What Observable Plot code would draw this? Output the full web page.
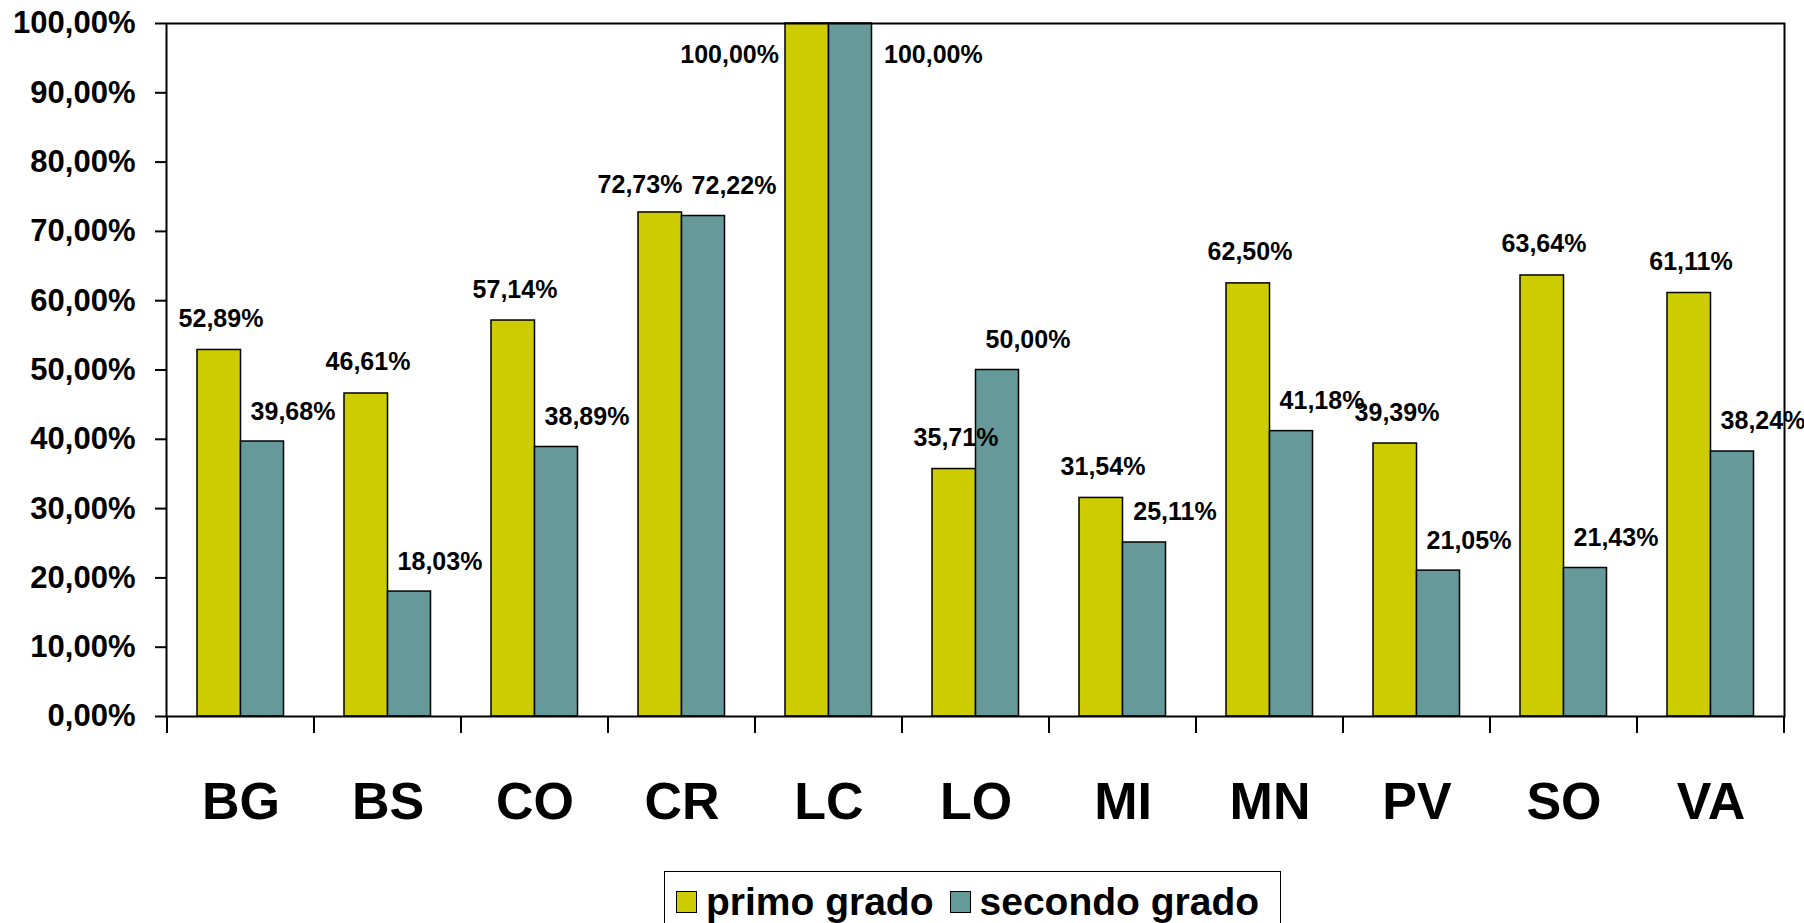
<!DOCTYPE html>
<html>
<head>
<meta charset="utf-8">
<script src="https://cdn.jsdelivr.net/npm/d3@7"></script>
<script src="https://cdn.jsdelivr.net/npm/@observablehq/plot@0.6"></script>
<style>
  html, body { margin: 0; padding: 0; background: #fff; }
  body { font-family: "Liberation Sans", Arial, Helvetica, sans-serif; width: 1804px; height: 923px; overflow: hidden; position: relative; }
  #chart svg { display: block; }
  #legend {
    position: absolute; left: 664px; top: 871px; width: 617px; height: 62px;
    box-sizing: border-box; border: 1.5px solid #000; background: #fff;
    display: flex; align-items: flex-start; padding: 8px 0 0 11px;
    font-weight: bold; font-size: 39px; line-height: 44px; color: #000;
  }
  .item { display: flex; align-items: center; }
  .sw { width: 21px; height: 22px; border: 1.5px solid #000; box-sizing: border-box; margin-right: 9px; }
</style>
</head>
<body>
<div id="chart"></div>
<div id="legend"></div>
<script>
const categories = ["BG", "BS", "CO", "CR", "LC", "LO", "MI", "MN", "PV", "SO", "VA"];
const primoGrado = [52.89, 46.61, 57.14, 72.73, 100.00, 35.71, 31.54, 62.50, 39.39, 63.64, 61.11];
const secondoGrado = [39.68, 18.03, 38.89, 72.22, 100.00, 50.00, 25.11, 41.18, 21.05, 21.43, 38.24];
const seriesNames = ["primo grado", "secondo grado"];
const seriesColors = ["#cccc00", "#669999"];
const yTicks = [0, 10, 20, 30, 40, 50, 60, 70, 80, 90, 100];

const fmt = d => d.toFixed(2).replace(".", ",") + "%";

// pairs whose values are nearly equal get their first label pushed aside so the two don't collide
const isClose = i => Math.abs(primoGrado[i] - secondoGrado[i]) < 5;

const rowsPrimo = categories.map((c, i) => ({cat: c, s: seriesNames[0], v: primoGrado[i], close: isClose(i)}));
const rowsSecondo = categories.map((c, i) => ({cat: c, s: seriesNames[1], v: secondoGrado[i], close: isClose(i)}));

const W = 1804, H = 865;
const ML = 166, MR = 20, MT = 23, MB = 149;

function boundaryTicks(index, scales, values, dimensions) {
  const {width, height, marginLeft, marginRight, marginBottom} = dimensions;
  let xs;
  if (scales && typeof scales.x === "function") {
    xs = categories.map(c => scales.x(c));
  } else {
    const b = d3.scaleBand(categories, [marginLeft, width - marginRight]);
    xs = categories.map(c => b(c));
  }
  xs.push(width - marginRight);
  const y0 = height - marginBottom;
  const g = d3.create("svg:g").attr("stroke", "black").attr("stroke-width", 2);
  g.selectAll("line").data(xs).join("line")
    .attr("x1", d => d).attr("x2", d => d)
    .attr("y1", y0).attr("y2", y0 + 17);
  return g.node();
}

const textCommon = {fontSize: 25, fontWeight: "bold", fill: "black"};

const plot = Plot.plot({
  width: W, height: H,
  marginLeft: ML, marginRight: MR, marginTop: MT, marginBottom: MB,
  style: {fontFamily: '"Liberation Sans", Arial, Helvetica, sans-serif', fontWeight: "bold", background: "white", color: "black", overflow: "visible"},
  x: {domain: categories, paddingInner: 0, paddingOuter: 0, label: null},
  y: {domain: [0, 100], label: null},
  marks: [
    Plot.barY(rowsPrimo, {x: "cat", y: "v", fill: seriesColors[0], stroke: "black", strokeWidth: 1.5, insetLeft: 30, insetRight: 73.5}),
    Plot.barY(rowsSecondo, {x: "cat", y: "v", fill: seriesColors[1], stroke: "black", strokeWidth: 1.5, insetLeft: 73.5, insetRight: 30.5}),
    Plot.frame({stroke: "black", strokeWidth: 2}),
    Plot.axisY({ticks: yTicks, tickFormat: fmt, tickSize: 11, tickPadding: 20, fontSize: 31, fontWeight: "bold", strokeWidth: 2, label: null}),
    Plot.axisX({tickSize: 0, tickPadding: 66, fontSize: 52, fontWeight: "bold", label: null}),
    boundaryTicks,
    Plot.text(rowsPrimo, {filter: d => d.v < 100 && !d.close, x: "cat", y: "v", text: d => fmt(d.v), dx: -20, dy: -31, lineAnchor: "middle", ...textCommon}),
    Plot.text(rowsPrimo, {filter: d => d.v < 100 && d.close, x: "cat", y: "v", text: d => fmt(d.v), dx: -42, dy: -27, lineAnchor: "middle", ...textCommon}),
    Plot.text(rowsSecondo, {filter: d => d.v < 100, x: "cat", y: "v", text: d => fmt(d.v), dx: 52, dy: -30, lineAnchor: "middle", ...textCommon}),
    Plot.text(rowsPrimo, {filter: d => d.v >= 100, x: "cat", y: "v", text: d => fmt(d.v), dx: -50, dy: 31, textAnchor: "end", lineAnchor: "middle", ...textCommon}),
    Plot.text(rowsSecondo, {filter: d => d.v >= 100, x: "cat", y: "v", text: d => fmt(d.v), dx: 55, dy: 31, textAnchor: "start", lineAnchor: "middle", ...textCommon})
  ]
});
document.getElementById("chart").appendChild(plot);

const legend = d3.select("#legend");
seriesNames.forEach((name, i) => {
  const item = legend.append("div").attr("class", "item").style("margin-right", i === 0 ? "16px" : "0px");
  item.append("div").attr("class", "sw").style("background", seriesColors[i]);
  item.append("span").text(name);
});
</script>
</body>
</html>
